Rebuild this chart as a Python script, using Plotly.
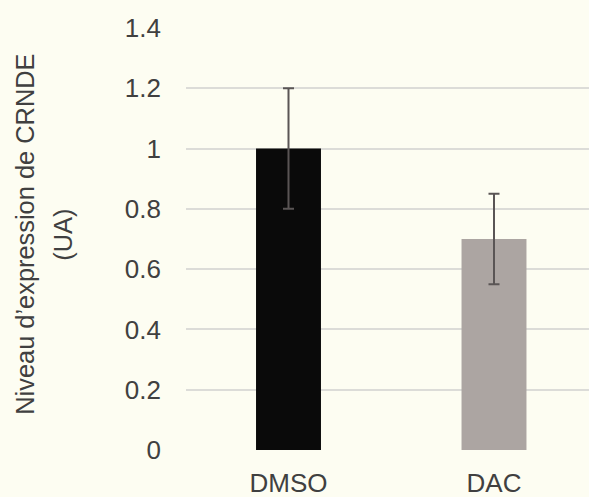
import plotly.graph_objects as go

categories = ["DMSO", "DAC"]
values = [1.0, 0.7]
errors = [0.2, 0.15]
bar_colors = ["#0a0a0a", "#aca5a2"]
y_ticks = [0, 0.2, 0.4, 0.6, 0.8, 1.0, 1.2, 1.4]
y_tick_labels = ["0", "0.2", "0.4", "0.6", "0.8", "1", "1.2", "1.4"]
title_lines = ["Niveau d’expression de CRNDE", "(UA)"]

bg = "#fdfdf2"
txt = "#404040"

fig = go.Figure()
fig.add_trace(go.Bar(
    x=[0, 1], y=values,
    marker=dict(color=bar_colors, line=dict(width=0)),
    width=0.316,
    error_y=dict(type="data", array=errors, visible=True, color="#5a5555",
                 thickness=2, width=5.5),
))

fig.update_layout(
    width=589, height=497,
    margin=dict(l=186, r=0, t=28, b=47),
    paper_bgcolor=bg, plot_bgcolor=bg,
    showlegend=False,
    font=dict(family="Liberation Sans, Arial, sans-serif", size=26, color=txt),
    xaxis=dict(range=[-0.4988, 1.4623], tickmode="array", tickvals=[0, 1],
               ticktext=categories, showgrid=False, zeroline=False,
               showline=False, ticks="", ticklabelstandoff=15,
               tickfont=dict(size=26, color=txt)),
    yaxis=dict(range=[0, 1.4], tickmode="array", tickvals=y_ticks,
               ticktext=y_tick_labels, showgrid=True, gridcolor="#dcdcd8",
               gridwidth=2, zeroline=False, showline=False, ticks="",
               ticklabelstandoff=24, tickfont=dict(size=26, color=txt)),
)

fig.add_annotation(text=title_lines[0], xref="paper", yref="paper",
                   x=0, y=0.51, xshift=-161, xanchor="center", yanchor="middle",
                   textangle=-90, showarrow=False,
                   font=dict(size=25.4, color=txt))
fig.add_annotation(text=title_lines[1], xref="paper", yref="paper",
                   x=0, y=0.51, xshift=-123, xanchor="center", yanchor="middle",
                   textangle=-90, showarrow=False,
                   font=dict(size=25.4, color=txt))

fig.write_html(
    "out.html",
    config={"displayModeBar": False},
    post_script="document.body.style.margin='0';document.body.style.background='#fdfdf2';",
)
